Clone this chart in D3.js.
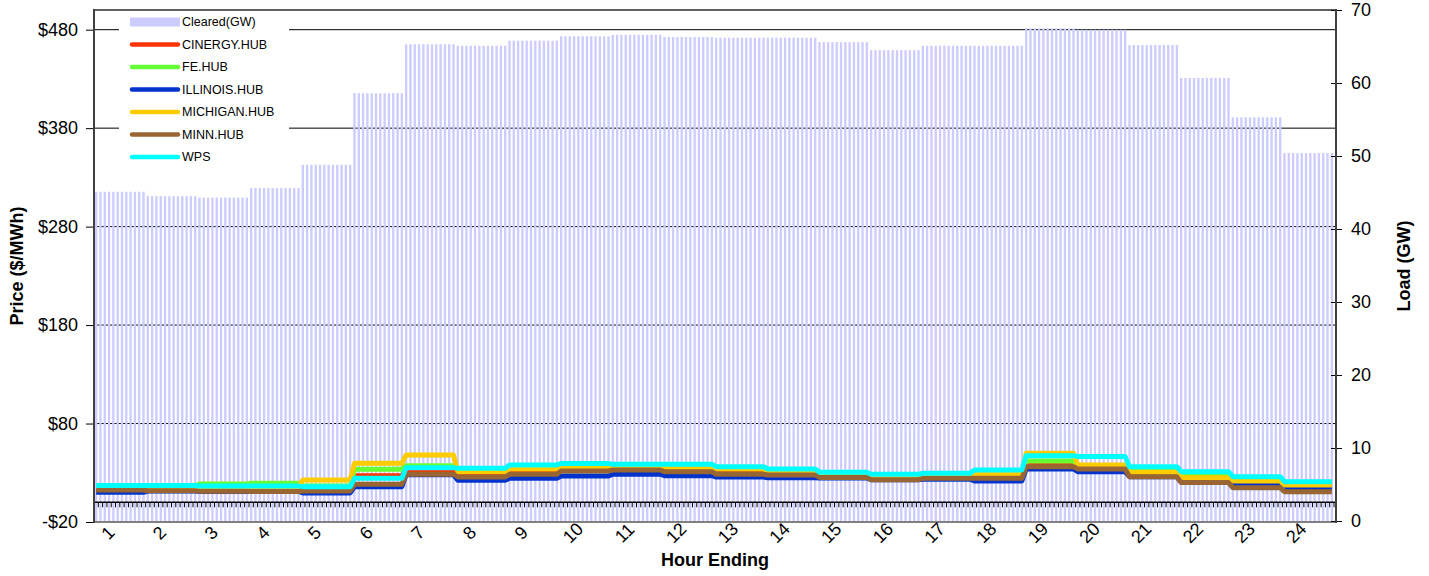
<!DOCTYPE html>
<html><head><meta charset="utf-8">
<script src="https://cdn.jsdelivr.net/npm/d3@7"></script>
<style>
body{margin:0;background:#fff}
svg{display:block}
text{font-family:"Liberation Sans",Arial,sans-serif;fill:#000}
</style>
</head><body>
<svg id="c" width="1429" height="576"></svg>
<script>
// ---------- data ----------
const hours = ["1","2","3","4","5","6","7","8","9","10","11","12","13","14","15","16","17","18","19","20","21","22","23","24"];
const intervalsPerHour = 12;
const clearedGW   = [45.1,44.5,44.3,45.6,48.8,58.6,65.3,65.1,65.8,66.4,66.6,66.3,66.2,66.2,65.6,64.5,65.1,65.1,67.5,67.3,65.2,60.7,55.3,50.4];
const cinergyHub  = [15,15,15,16,15,27,33,30,33,34,34,33,31,29,27,25,26,28,39.6,36,30,25,21,17];
const feHub       = [16.5,16.5,18.6,19.3,16.5,33.6,37.2,34,36,37,36,36,34,32,29,27,28,31,42,37,32,27,23,19];
const illinoisHub = [10.2,11.5,11,11,9.5,15.9,28,22.4,24.4,26.7,28.5,27,25.7,25,24.8,23,23.5,21.7,33.9,31.1,26,20.5,18.3,14.9];
const michiganHub = [16,16,16,16,22.7,39.6,48.1,31.1,33.9,35.2,34,34.5,34,31,28,26,27,28.5,49.8,37.9,30.5,25,21.7,17.5];
const minnHub     = [12.5,11.8,11.2,11,11.5,18.3,28.5,25.7,28.5,31.8,32.8,31.1,28.5,27.8,25.3,23,24.4,24.4,36.2,33.9,26,20,14.9,10.8];
const wps         = [17,17,16.6,16.6,15.9,24.4,35.2,34.5,37.9,39.3,38.6,38.6,36.2,33.9,30.5,28.5,29.5,32.8,47.4,46.4,36.2,31.1,26,21];
const seriesNames = ["CINERGY.HUB","FE.HUB","ILLINOIS.HUB","MICHIGAN.HUB","MINN.HUB","WPS"];
const seriesValues = [cinergyHub, feHub, illinoisHub, michiganHub, minnHub, wps];
const seriesColors = ["#ff3300","#66ff33","#0033cc","#ffcc00","#996633","#00ffff"];
const barLabel = "Cleared(GW)";
const barColor = "#ccccff";
const priceTicks = [-20,80,180,280,380,480];
const loadTicks = [0,10,20,30,40,50,60,70];

// ---------- layout ----------
const svg = d3.select("#c");
const L = 94, R = 1336, T = 10, B = 522;
const nCat = hours.length * intervalsPerHour;
const x = d3.scaleBand().domain(d3.range(nCat)).range([L, 1334]).padding(0);
const step = x.step();
const yP = d3.scaleLinear().domain([-20, 500]).range([B, T]);
const yL = d3.scaleLinear().domain([0, 70]).range([521, T]);

// expand hourly values to 5-minute intervals
const expand = arr => d3.range(nCat).map(i => arr[Math.floor(i / intervalsPerHour)]);

// gridlines
svg.append("g").selectAll("line").data(priceTicks.filter(d => d > -20)).join("line")
  .attr("x1", L).attr("x2", R).attr("y1", d => yP(d)).attr("y2", d => yP(d))
  .attr("stroke", "#000").attr("stroke-width", 1);

// bottom border
svg.append("line").attr("x1", L).attr("x2", R).attr("y1", B).attr("y2", B)
  .attr("stroke", "#808080").attr("stroke-width", 2);

// bars
const barW = step * 0.55;
svg.append("g").selectAll("rect").data(expand(clearedGW)).join("rect")
  .attr("x", (d, i) => x(i) + step / 2 - barW / 2)
  .attr("width", barW)
  .attr("y", d => yL(d))
  .attr("height", d => yL(0) - yL(d))
  .attr("fill", barColor);

// category axis at price 0
const y0 = yP(0);
const cat = svg.append("g");
cat.append("line").attr("x1", L).attr("x2", R).attr("y1", y0).attr("y2", y0)
  .attr("stroke", "#000").attr("stroke-width", 1.5);
cat.selectAll("line.t").data(d3.range(nCat + 1)).join("line").attr("class", "t")
  .attr("x1", i => L + i * step).attr("x2", i => L + i * step)
  .attr("y1", y0).attr("y2", y0 + 5)
  .attr("stroke", "#000").attr("stroke-width", 1);

// price lines
const line = d3.line().x((d, i) => x(i) + step / 2).y(d => yP(d));
svg.append("g").selectAll("path").data(seriesValues).join("path")
  .attr("d", d => line(expand(d)))
  .attr("fill", "none")
  .attr("stroke", (d, i) => seriesColors[i])
  .attr("stroke-width", 5)
  .attr("stroke-linejoin", "round");

// top border
svg.append("line").attr("x1", L).attr("x2", R).attr("y1", T).attr("y2", T)
  .attr("stroke", "#606060").attr("stroke-width", 2);

// left axis
const fmt = d => d < 0 ? "-$" + (-d) : "$" + d;
const ax = svg.append("g").attr("transform", `translate(${L},0)`)
  .call(d3.axisLeft(yP).tickValues(priceTicks).tickFormat(fmt).tickSize(8).tickPadding(8));
ax.select(".domain").remove();
ax.append("line").attr("y1", T - 1).attr("y2", B + 1).attr("stroke", "#404040").attr("stroke-width", 2);
ax.selectAll(".tick line").attr("stroke", "#000");
ax.selectAll(".tick text").attr("font-size", 18).attr("font-family", "Liberation Sans, Arial, sans-serif");

// right axis
const ar = svg.append("g").attr("transform", `translate(${R},0)`)
  .call(d3.axisRight(yL).tickValues(loadTicks).tickSize(6).tickPadding(9));
ar.select(".domain").remove();
ar.selectAll(".tick line").attr("x1", -5).attr("stroke", "#000");
ar.append("line").attr("y1", T - 1).attr("y2", B + 1).attr("stroke", "#404040").attr("stroke-width", 2);
ar.selectAll(".tick text").attr("font-size", 18).attr("font-family", "Liberation Sans, Arial, sans-serif");

// x labels
svg.append("g").selectAll("text").data(hours).join("text")
  .attr("transform", (d, i) => `translate(${x(i * intervalsPerHour + 3) + step * 0.25},533) rotate(-45)`)
  .attr("text-anchor", "middle").attr("dominant-baseline", "central")
  .attr("font-size", 18).text(d => d);

// axis titles
svg.append("text").attr("transform", "translate(17,266) rotate(-90)")
  .attr("text-anchor", "middle").attr("dominant-baseline", "central")
  .attr("font-size", 18).attr("font-weight", "bold").text("Price ($/MWh)");
svg.append("text").attr("transform", "translate(1404,266) rotate(-90)")
  .attr("text-anchor", "middle").attr("dominant-baseline", "central")
  .attr("font-size", 18).attr("font-weight", "bold").text("Load (GW)");
svg.append("text").attr("x", 715).attr("y", 566)
  .attr("text-anchor", "middle")
  .attr("font-size", 18).attr("font-weight", "bold").text("Hour Ending");

// legend
const lg = svg.append("g");
lg.append("rect").attr("x", 119).attr("y", 11.5).attr("width", 170).attr("height", 160).attr("fill", "#fff");
const legY = d3.range(7).map(i => 22 + i * 22.5);
lg.append("rect").attr("x", 130).attr("y", legY[0] - 4.5).attr("width", 50).attr("height", 9).attr("fill", barColor);
lg.append("text").attr("x", 182).attr("y", legY[0]).attr("dominant-baseline", "central")
  .attr("font-size", 12.5).text(barLabel);
seriesNames.forEach((s, i) => {
  lg.append("line").attr("x1", 132).attr("x2", 178).attr("y1", legY[i + 1]).attr("y2", legY[i + 1])
    .attr("stroke", seriesColors[i]).attr("stroke-width", 4.5).attr("stroke-linecap", "round");
  lg.append("text").attr("x", 182).attr("y", legY[i + 1]).attr("dominant-baseline", "central")
    .attr("font-size", 12.5).text(s);
});
</script>
</body></html>
